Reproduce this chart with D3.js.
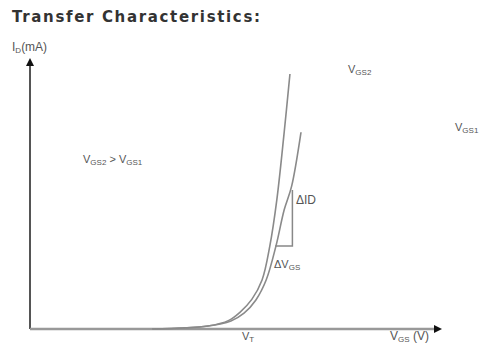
<!DOCTYPE html>
<html>
<head>
<meta charset="utf-8">
<script src="https://cdn.jsdelivr.net/npm/d3@7"></script>
<style>
  body { margin: 0; background: #fff; }
  text { font-family: "Liberation Sans", "DejaVu Sans", sans-serif; fill: #555; }
</style>
</head>
<body>
<div id="chart"></div>
<script>
// gate voltage (V) and drain current (mA)
const vgsCurve1 = [2.98, 4.34, 4.85, 5.12, 5.41, 5.66, 5.85, 6.02, 6.20, 6.34];
const idCurve1  = [0, 0.11, 0.32, 0.62, 1.10, 1.82, 3.09, 4.80, 7.32, 9.48];
const vgsCurve2 = [2.98, 4.34, 4.90, 5.22, 5.51, 5.76, 6.00, 6.20, 6.38, 6.61];
const idCurve2  = [0, 0.11, 0.30, 0.59, 1.08, 1.82, 3.09, 4.43, 5.30, 7.32];

// the delta box between the curves
const deltaVgs = [5.98, 6.40];
const deltaId = [3.09, 5.17];

const width = 487, height = 345;
const x = d3.scaleLinear().domain([0, 10]).range([30, 440]);
const y = d3.scaleLinear().domain([0, 10]).range([329, 60]);

const svg = d3.select("#chart").append("svg")
    .attr("width", width)
    .attr("height", height);

// title
svg.append("text")
    .attr("x", 12).attr("y", 22)
    .attr("textLength", 248)
    .style("font-family", "'DejaVu Sans', sans-serif")
    .style("font-size", "15px")
    .style("font-weight", "bold")
    .style("fill", "#333")
    .text("Transfer Characteristics:");

// axes
svg.append("line")
    .attr("x1", x(0)).attr("y1", y(0))
    .attr("x2", x(0)).attr("y2", y(9.9))
    .attr("stroke", "#555").attr("stroke-width", 2);
svg.append("line")
    .attr("x1", x(0)).attr("y1", y(0))
    .attr("x2", x(9.95)).attr("y2", y(0))
    .attr("stroke", "#999").attr("stroke-width", 2.5);

// arrow heads
svg.append("path")
    .attr("d", `M${x(0)},${y(10) - 2} l-4,8 l8,0 z`)
    .attr("fill", "#111");
svg.append("path")
    .attr("d", `M${x(10) + 2},${y(0)} l-8,-4 l0,8 z`)
    .attr("fill", "#111");

// curves
const line = d3.line()
    .x(d => x(d[0]))
    .y(d => y(d[1]))
    .curve(d3.curveCatmullRom);

[[vgsCurve1, idCurve1], [vgsCurve2, idCurve2]].forEach(([vs, ids]) => {
    svg.append("path")
        .datum(vs.map((v, i) => [v, ids[i]]))
        .attr("d", line)
        .attr("fill", "none")
        .attr("stroke", "#8a8a8a")
        .attr("stroke-width", 1.6);
});

// delta box
svg.append("path")
    .attr("d", `M${x(deltaVgs[0])},${y(deltaId[0])} L${x(deltaVgs[1])},${y(deltaId[0])} L${x(deltaVgs[1])},${y(deltaId[1])}`)
    .attr("fill", "none")
    .attr("stroke", "#888")
    .attr("stroke-width", 1.5);

// labels, subscripts only slightly lowered like the original
function label(px, py, parts, size) {
    const t = svg.append("text")
        .attr("x", px).attr("y", py)
        .style("font-size", (size || 11) + "px");
    parts.forEach((p, i) => {
        const s = t.append("tspan").text(p[0]);
        if (p[1]) s.attr("dy", 2).style("font-size", "8px");
        else if (i > 0 && parts[i - 1][1]) s.attr("dy", -2);
    });
    return t;
}

label(12, 51, [["I"], ["D", 1], ["(mA)"]], 12);
label(83, 163, [["V"], ["GS2", 1], [" > V"], ["GS1", 1]]);
label(348, 73, [["V"], ["GS2", 1]]);
label(455, 131, [["V"], ["GS1", 1]]);
label(296, 204, [["\u0394ID"]], 12);
label(274, 268, [["\u0394V"], ["GS", 1]]);
label(242, 340, [["V"], ["T", 1]]);
label(390, 340, [["V"], ["GS", 1], [" (V)"]], 12);
</script>
</body>
</html>
